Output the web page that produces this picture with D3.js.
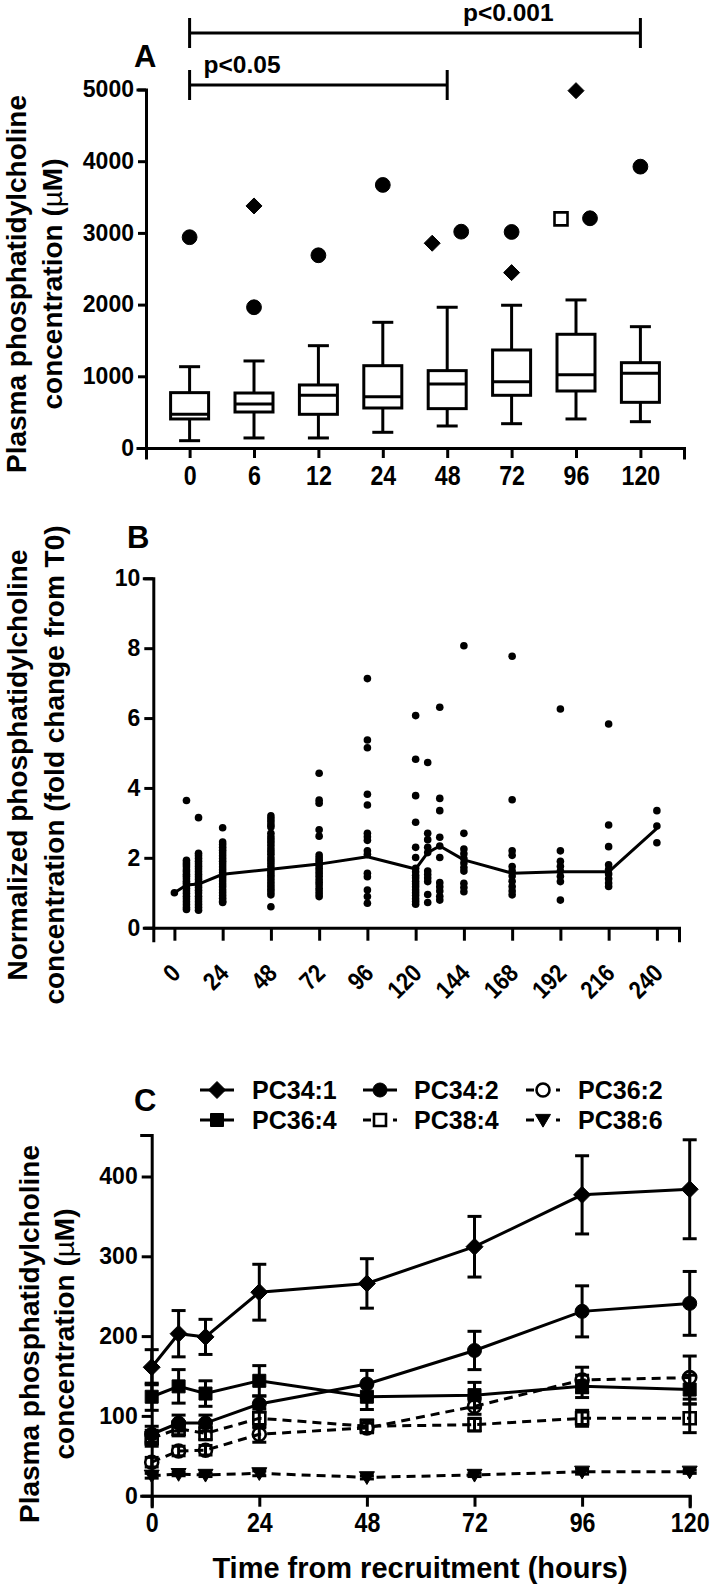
<!DOCTYPE html>
<html><head><meta charset="utf-8">
<script src="https://cdn.jsdelivr.net/npm/d3@7"></script>
<style>
body{margin:0;background:#fff;}
svg{display:block;font-family:"Liberation Sans",Arial,Helvetica,sans-serif;font-weight:bold;}
</style></head><body>
<svg id="chart" width="710" height="1588"></svg>
<script>
// ---------------- Panel A data ----------------
const categoriesA = ["0","6","12","24","48","72","96","120"];
const whiskerLowA  = [102,140,140,219,307,339,405,367];
const q1A          = [405,502,470,558,549,735,795,637];
const medianA      = [470,614,735,716,893,925,1023,1042];
const q3A          = [772,767,879,1148,1079,1367,1586,1190];
const whiskerHighA = [1134,1214,1427,1753,1963,1991,2065,1692];
const outlierCirclesA  = [["0",2940],["6",1963],["12",2688],["24",3669],["48",3017],["72",3013],["96",3204],["120",3924]];
const outlierDiamondsA = [["6",3376],["48",2856],["72",2446],["96",4984]];
const outlierSquaresA  = [["96",3195]];
const yTicksA = [0,1000,2000,3000,4000,5000];
const sigFromA  = ["0","0"];
const sigToA    = ["48","120"];
const sigLabelA = ["p<0.05","p<0.001"];

// ---------------- Panel B data ----------------
const timesB = [0,6,12,24,48,72,96,120,126,132,144,168,192,216,240];
const meanB  = [1.00,1.22,1.25,1.53,1.67,1.82,2.03,1.68,2.15,2.34,1.94,1.56,1.60,1.60,2.84];
const pointsB = [
  [1.0],
  [3.64,1.93,1.86,1.8,1.74,1.66,1.6,1.53,1.47,1.4,1.33,1.27,1.2,1.12,1.05,0.98,0.9,0.82,0.74,0.66,0.58,0.52],
  [3.15,2.13,2.06,1.98,1.9,1.82,1.75,1.68,1.6,1.52,1.45,1.38,1.3,1.22,1.15,1.07,0.99,0.9,0.82,0.74,0.66,0.58,0.5],
  [2.86,2.45,2.38,2.3,2.22,2.14,2.06,1.98,1.9,1.82,1.74,1.66,1.58,1.5,1.42,1.34,1.25,1.17,1.08,1.0,0.92,0.84,0.76,0.72],
  [3.2,3.12,3.04,2.95,2.88,2.7,2.6,2.52,2.44,2.35,2.26,2.18,2.1,2.0,1.92,1.84,1.75,1.66,1.58,1.5,1.42,1.34,1.26,1.18,1.1,1.02,0.94,0.6],
  [4.42,3.65,3.56,2.8,2.62,2.08,2.0,1.93,1.86,1.78,1.7,1.62,1.55,1.47,1.38,1.3,1.22,1.13,1.05,0.97,0.89],
  [7.13,5.37,5.15,3.82,3.51,2.7,2.6,2.5,2.2,2.1,1.56,1.46,1.08,0.89,0.7],
  [6.07,4.82,3.78,3.02,2.3,2.01,1.7,1.6,1.5,1.42,1.33,1.25,1.17,1.08,1.0,0.92,0.83,0.75,0.67],
  [4.73,2.7,2.52,2.3,2.15,1.62,1.52,1.42,1.32,0.95,0.72],
  [6.31,3.7,3.35,2.59,2.34,2.01,1.29,1.17,1.05,0.9,0.79],
  [8.07,2.7,2.25,2.12,1.98,1.85,1.72,1.62,1.27,1.15,1.03],
  [7.77,3.66,2.2,2.07,1.75,1.62,1.48,1.33,1.18,1.05,0.94],
  [6.26,2.2,1.9,1.76,1.62,1.47,1.32,0.79],
  [5.83,2.94,2.32,1.8,1.67,1.54,1.4,1.28,1.18],
  [3.35,2.91,2.43]
];
const xTicksB = [0,24,48,72,96,120,144,168,192,216,240];
const yTicksB = [0,2,4,6,8,10];

// ---------------- Panel C data ----------------
const timesC = [0,6,12,24,48,72,96,120];
const pc341 = [161,203,199,255,266,312,377,384];
const pc341Err = [22,29,22,35,31,38,49,62];
const pc342 = [77,91,91,115,140,182,231,241];
const pc342Err = [10,10,10,10,17,24,32,40];
const pc362 = [42,56,57,77,85,112,145,148];
const pc362Err = [6,6,6,10,6,10,16,27];
const pc364 = [124,137,128,144,124,126,137,133];
const pc364Err = [17,21,16,19,16,16,14,18];
const pc384 = [72,84,78,97,87,89,97,97];
const pc384Err = [10,9,8,12,8,8,10,18];
const pc386 = [25,27,26,28,23,26,30,30];
const pc386Err = [3,2,2,3,2,2,3,2];
const xTicksC = [0,24,48,72,96,120];
const yTicksC = [0,100,200,300,400];

// ---------------- helpers ----------------
const svg = d3.select("#chart");
const LW = 3;
const XS = 0.86; // horizontal squeeze of x tick labels

function markerPath(type, s){
  switch(type){
    case "diamond": return `M0,${-s}L${s},0L0,${s}L${-s},0Z`;
    case "circle": case "openCircle": return d3.arc()({innerRadius:0,outerRadius:s,startAngle:0,endAngle:2*Math.PI});
    case "square": case "openSquare": return `M${-s},${-s}H${s}V${s}H${-s}Z`;
    case "triangleDown": return `M${-s},${-s*0.75}H${s}L0,${s*0.95}Z`;
  }
}
function markerStyle(sel, type){
  const open = type==="openCircle"||type==="openSquare";
  sel.attr("fill", open?"none":"#000").attr("stroke","#000").attr("stroke-width", open?2.6:1);
}
function styleAxis(g, fontSize){
  g.select(".domain").attr("stroke","#000").attr("stroke-width",LW).attr("stroke-linecap","square");
  g.selectAll(".tick line").attr("stroke","#000").attr("stroke-width",LW);
  g.selectAll(".tick text").attr("fill","#000").style("font-size",fontSize+"px")
    .style("font-family",'"Liberation Sans",Arial,sans-serif').style("font-weight","bold");
}
function yTitle(lines, cy, xs){
  lines.forEach((ln,i)=>{
    const t = svg.append("text").attr("transform",`translate(${xs[i]},${cy}) rotate(-90)`)
      .attr("text-anchor","middle").style("font-size","28px");
    const parts = ln.split("µ");
    t.append("tspan").text(parts[0]);
    if(parts.length>1){
      t.append("tspan").style("font-weight","normal").text("µ");
      t.append("tspan").text(parts[1]);
    }
  });
}
function panelLetter(txt,x,y){
  svg.append("text").attr("x",x).attr("y",y).style("font-size","31px").text(txt);
}
const fmt = d3.format("d");

// ================= Panel A =================
(function(){
  const x = d3.scalePoint().domain(categoriesA).range([146,684]).padding(0.677);
  const y = d3.scaleLinear().domain([0,5000]).range([448,89.5]);
  const gA = svg.append("g");
  const gx = gA.append("g").attr("transform","translate(0,448)")
    .call(d3.axisBottom(x).tickSizeOuter(0).tickSize(10).tickPadding(8));
  styleAxis(gx,27);
  gx.selectAll(".tick text").attr("transform",`scale(${XS},1)`);
  const gy = gA.append("g").attr("transform","translate(146,0)")
    .call(d3.axisLeft(y).tickValues(yTicksA).tickFormat(fmt).tickSizeOuter(0).tickSize(8).tickPadding(4));
  styleAxis(gy,23);

  const bw = 19, cw = 10.5;
  categoriesA.forEach((c,i)=>{
    const cx = x(c);
    const g = gA.append("g").attr("stroke","#000").attr("stroke-width",LW).attr("fill","none");
    g.append("line").attr("x1",cx).attr("x2",cx).attr("y1",y(whiskerHighA[i])).attr("y2",y(q3A[i]));
    g.append("line").attr("x1",cx).attr("x2",cx).attr("y1",y(q1A[i])).attr("y2",y(whiskerLowA[i]));
    g.append("line").attr("x1",cx-cw).attr("x2",cx+cw).attr("y1",y(whiskerHighA[i])).attr("y2",y(whiskerHighA[i]));
    g.append("line").attr("x1",cx-cw).attr("x2",cx+cw).attr("y1",y(whiskerLowA[i])).attr("y2",y(whiskerLowA[i]));
    g.append("rect").attr("x",cx-bw).attr("width",2*bw).attr("y",y(q3A[i])).attr("height",y(q1A[i])-y(q3A[i])).attr("fill","#fff");
    g.append("line").attr("x1",cx-bw).attr("x2",cx+bw).attr("y1",y(medianA[i])).attr("y2",y(medianA[i]));
  });

  const outs = [];
  outlierCirclesA.forEach(d=>outs.push({c:d[0],v:d[1],t:"circle"}));
  outlierDiamondsA.forEach(d=>outs.push({c:d[0],v:d[1],t:"diamond"}));
  outlierSquaresA.forEach(d=>outs.push({c:d[0],v:d[1],t:"openSquare"}));
  outs.forEach(o=>{
    const near = outs.filter(p=>p.c===o.c && Math.abs(p.v-o.v)<400).sort((a,b)=>a.v-b.v);
    o.dx = near.length>1 ? (near.indexOf(o)===0?-15:14) : 0;
  });
  const sizes = {circle:7.4, diamond:8, openSquare:6.5};
  outs.forEach(o=>{
    gA.append("path").attr("d",markerPath(o.t,sizes[o.t]))
      .attr("transform",`translate(${x(o.c)+o.dx},${y(o.v)})`).call(markerStyle,o.t);
  });

  const barY = [85,33];
  const textX = [null, 463];
  sigLabelA.forEach((lab,i)=>{
    const x0 = x(sigFromA[i]), x1 = x(sigToA[i]), yy = barY[i];
    const g = gA.append("g").attr("stroke","#000").attr("stroke-width",LW);
    g.append("line").attr("x1",x0).attr("x2",x1).attr("y1",yy).attr("y2",yy);
    g.append("line").attr("x1",x0).attr("x2",x0).attr("y1",yy-15).attr("y2",yy+15);
    g.append("line").attr("x1",x1).attr("x2",x1).attr("y1",yy-15).attr("y2",yy+15);
    gA.append("text").attr("x", textX[i]===null ? x0+14 : textX[i]).attr("y",yy-12)
      .style("font-size","24.5px").text(lab);
  });

  panelLetter("A",134,67);
  yTitle(["Plasma phosphatidylcholine","concentration (µM)"],284,[26,62]);
})();

// ================= Panel B =================
(function(){
  const x = d3.scaleLinear().domain([-10.5,251]).range([153.3,679]);
  const y = d3.scaleLinear().domain([0,10]).range([927.7,578.3]);
  const gB = svg.append("g");
  const gx = gB.append("g").attr("transform","translate(0,927.7)")
    .call(d3.axisBottom(x).tickValues(xTicksB).tickSizeOuter(0).tickSize(13));
  styleAxis(gx,25);
  gx.selectAll(".tick text").attr("y",0).attr("dy",null).attr("x",0)
    .attr("text-anchor","end").attr("transform",`translate(7,47) rotate(-45) scale(${XS},1)`);
  const gy = gB.append("g").attr("transform","translate(153.3,0)")
    .call(d3.axisLeft(y).tickValues(yTicksB).tickSizeOuter(0).tickSize(9).tickPadding(4));
  styleAxis(gy,23);

  const pts = [];
  timesB.forEach((t,i)=>pointsB[i].forEach(v=>pts.push([t,v])));
  gB.append("g").selectAll("circle").data(pts).join("circle")
    .attr("cx",d=>x(d[0])).attr("cy",d=>y(d[1])).attr("r",3.8).attr("fill","#000");
  gB.append("path").datum(timesB.map((t,i)=>[t,meanB[i]]))
    .attr("d",d3.line().x(d=>x(d[0])).y(d=>y(d[1])))
    .attr("fill","none").attr("stroke","#000").attr("stroke-width",LW).attr("stroke-linejoin","round");

  panelLetter("B",127,548);
  yTitle(["Normalized phosphatidylcholine","concentration (fold change from T0)"],765,[27,64]);
})();

// ================= Panel C =================
(function(){
  const x = d3.scaleLinear().domain([0,120]).range([151.7,689.7]);
  const y = d3.scaleLinear().domain([0,452]).range([1495.7,1135]);
  const gC = svg.append("g");
  const gx = gC.append("g").attr("transform","translate(0,1495.7)")
    .call(d3.axisBottom(x).tickValues(xTicksC).tickSizeOuter(0).tickSize(11).tickPadding(6));
  styleAxis(gx,27);
  gx.selectAll(".tick text").attr("transform",`scale(${XS},1)`);
  const gy = gC.append("g").attr("transform","translate(151.7,0)")
    .call(d3.axisLeft(y).tickValues(yTicksC).tickSizeOuter(0).tickSize(10).tickPadding(4));
  styleAxis(gy,23);

  const series = [
    {name:"PC38:6", v:pc386, e:pc386Err, m:"triangleDown", dash:true, s:7.5},
    {name:"PC36:2", v:pc362, e:pc362Err, m:"openCircle", dash:true, s:6.5},
    {name:"PC38:4", v:pc384, e:pc384Err, m:"openSquare", dash:true, s:6},
    {name:"PC36:4", v:pc364, e:pc364Err, m:"square", dash:false, s:6.5},
    {name:"PC34:2", v:pc342, e:pc342Err, m:"circle", dash:false, s:7},
    {name:"PC34:1", v:pc341, e:pc341Err, m:"diamond", dash:false, s:8.5}
  ];
  const line = d3.line().x(d=>x(d[0])).y(d=>y(d[1]));
  series.forEach(sr=>{
    const g = gC.append("g");
    const data = timesC.map((t,i)=>[t,sr.v[i],sr.e[i]]);
    g.append("path").datum(data).attr("d",line).attr("fill","none").attr("stroke","#000")
      .attr("stroke-width",LW).attr("stroke-dasharray",sr.dash?"9,6":null);
    data.forEach(d=>{
      const cx=x(d[0]), yt=y(d[1]+d[2]), yb=y(d[1]-d[2]);
      const eg = g.append("g").attr("stroke","#000").attr("stroke-width",LW);
      eg.append("line").attr("x1",cx).attr("x2",cx).attr("y1",yt).attr("y2",yb);
      eg.append("line").attr("x1",cx-7).attr("x2",cx+7).attr("y1",yt).attr("y2",yt);
      eg.append("line").attr("x1",cx-7).attr("x2",cx+7).attr("y1",yb).attr("y2",yb);
      g.append("path").attr("d",markerPath(sr.m,sr.s)).attr("transform",`translate(${cx},${y(d[1])})`)
        .call(markerStyle,sr.m);
    });
  });

  const legendOrder = ["PC34:1","PC34:2","PC36:2","PC36:4","PC38:4","PC38:6"];
  const colSym = [217,380,543], colText = [252,414,578], rowY = [1090,1120];
  legendOrder.forEach((nm,i)=>{
    const sr = series.find(s=>s.name===nm);
    const cx = colSym[i%3], cy = rowY[Math.floor(i/3)];
    gC.append("line").attr("x1",cx-17).attr("x2",cx+17).attr("y1",cy).attr("y2",cy)
      .attr("stroke","#000").attr("stroke-width",LW).attr("stroke-dasharray",sr.dash?"8,22,4":null);
    gC.append("path").attr("d",markerPath(sr.m,sr.s)).attr("transform",`translate(${cx},${cy})`).call(markerStyle,sr.m);
    gC.append("text").attr("x",colText[i%3]).attr("y",cy+9).style("font-size","25px").text(nm);
  });

  svg.append("text").attr("x",420).attr("y",1578).attr("text-anchor","middle")
    .style("font-size","29px").text("Time from recruitment (hours)");
  panelLetter("C",134,1111);
  yTitle(["Plasma phosphatidylcholine","concentration (µM)"],1334,[39,74]);
})();
</script>
</body></html>
